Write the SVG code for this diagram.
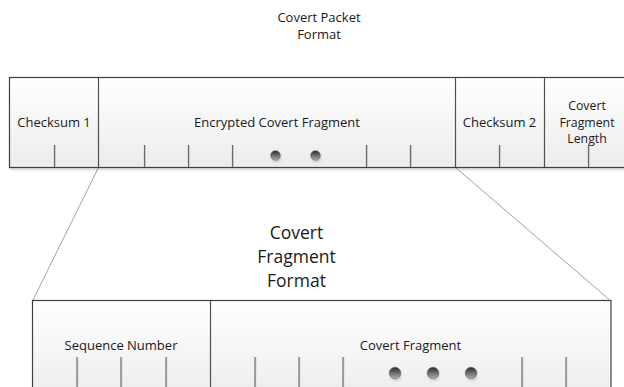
<svg xmlns="http://www.w3.org/2000/svg" width="624" height="387" viewBox="0 0 624 387">
<defs>
<linearGradient id="boxfill" x1="0" y1="0" x2="0" y2="1">
<stop offset="0" stop-color="#ffffff"/>
<stop offset="1" stop-color="#ececec"/>
</linearGradient>
<linearGradient id="dot" x1="0" y1="0" x2="0" y2="1">
<stop offset="0" stop-color="#2a2a2a"/>
<stop offset="1" stop-color="#b0b0b0"/>
</linearGradient>
<filter id="sh" x="-10%" y="-10%" width="120%" height="130%">
<feDropShadow dx="1" dy="2" stdDeviation="1" flood-color="#000" flood-opacity="0.15"/>
</filter>
</defs>
<style>
text{font-family:"Open Sans","DejaVu Sans",sans-serif;font-size:13px;fill:#1a1a1a;text-anchor:middle}
.big{font-size:17.5px}
.sm{font-size:12.3px}
.box{fill:url(#boxfill);stroke:#404040;stroke-width:1.2}
.div{stroke:#505050;stroke-width:1.2}
.tick{stroke:#6a6a6a;stroke-width:1.2}
.tick2{stroke:#d8d8d8;stroke-width:1}
.dot{fill:url(#dot);stroke:#555;stroke-width:0.5}
.con{stroke:#8c8c8c;stroke-width:0.8;fill:none}
</style>
<rect width="624" height="387" fill="#ffffff"/>
<g id="title">
<text x="319" y="22">Covert Packet</text>
<text x="319" y="39">Format</text>
</g>
<g id="connectors">
<line class="con" x1="98.5" y1="167.5" x2="32.5" y2="301"/>
<line class="con" x1="455.5" y1="167.5" x2="611" y2="301"/>
</g>
<g id="packet">
<rect class="box" x="9.5" y="77.5" width="630" height="90" filter="url(#sh)"/>
<line class="div" x1="98.5" y1="78" x2="98.5" y2="167"/>
<line class="div" x1="455.5" y1="78" x2="455.5" y2="167"/>
<line class="div" x1="544.5" y1="78" x2="544.5" y2="167"/>
<g id="ticks-top">
<line class="tick2" x1="55.5" y1="145" x2="55.5" y2="167"/><line class="tick" x1="54.5" y1="145" x2="54.5" y2="167"/>
<line class="tick2" x1="145.5" y1="145" x2="145.5" y2="167"/><line class="tick" x1="144.5" y1="145" x2="144.5" y2="167"/>
<line class="tick2" x1="189.5" y1="145" x2="189.5" y2="167"/><line class="tick" x1="188.5" y1="145" x2="188.5" y2="167"/>
<line class="tick2" x1="233.5" y1="145" x2="233.5" y2="167"/><line class="tick" x1="232.5" y1="145" x2="232.5" y2="167"/>
<line class="tick2" x1="367.5" y1="145" x2="367.5" y2="167"/><line class="tick" x1="366.5" y1="145" x2="366.5" y2="167"/>
<line class="tick2" x1="411.5" y1="145" x2="411.5" y2="167"/><line class="tick" x1="410.5" y1="145" x2="410.5" y2="167"/>
<line class="tick2" x1="500.5" y1="145" x2="500.5" y2="167"/><line class="tick" x1="499.5" y1="145" x2="499.5" y2="167"/>
<line class="tick2" x1="589.5" y1="145" x2="589.5" y2="167"/><line class="tick" x1="588.5" y1="145" x2="588.5" y2="167"/>
</g>
<circle class="dot" cx="275.5" cy="155.5" r="4.8" filter="url(#sh)"/>
<circle class="dot" cx="315.5" cy="155.5" r="4.8" filter="url(#sh)"/>
</g>
<g id="checksum1"><text x="54" y="127">Checksum 1</text></g>
<g id="encrypted"><text x="277" y="127">Encrypted Covert Fragment</text></g>
<g id="checksum2"><text x="499.5" y="127">Checksum 2</text></g>
<g id="length">
<text class="sm" x="587" y="110">Covert</text>
<text class="sm" x="587" y="126.5">Fragment</text>
<text class="sm" x="587" y="143">Length</text>
</g>
<g id="subtitle">
<text class="big" x="296.5" y="239">Covert</text>
<text class="big" x="296.5" y="263">Fragment</text>
<text class="big" x="296.5" y="287">Format</text>
</g>
<g id="fragment">
<rect class="box" x="32.5" y="300.5" width="578.5" height="100"/>
<line class="div" x1="210.5" y1="301" x2="210.5" y2="387"/>
<line class="tick2" x1="78" y1="357" x2="78" y2="387"/><line class="tick" x1="77" y1="357" x2="77" y2="387"/>
<line class="tick2" x1="122" y1="357" x2="122" y2="387"/><line class="tick" x1="121" y1="357" x2="121" y2="387"/>
<line class="tick2" x1="167" y1="357" x2="167" y2="387"/><line class="tick" x1="166" y1="357" x2="166" y2="387"/>
<line class="tick2" x1="256" y1="357" x2="256" y2="387"/><line class="tick" x1="255" y1="357" x2="255" y2="387"/>
<line class="tick2" x1="300" y1="357" x2="300" y2="387"/><line class="tick" x1="299" y1="357" x2="299" y2="387"/>
<line class="tick2" x1="344" y1="357" x2="344" y2="387"/><line class="tick" x1="343" y1="357" x2="343" y2="387"/>
<line class="tick2" x1="523" y1="357" x2="523" y2="387"/><line class="tick" x1="522" y1="357" x2="522" y2="387"/>
<line class="tick2" x1="567" y1="357" x2="567" y2="387"/><line class="tick" x1="566" y1="357" x2="566" y2="387"/>
<circle class="dot" cx="395" cy="373" r="5.8" filter="url(#sh)"/>
<circle class="dot" cx="433" cy="373" r="5.8" filter="url(#sh)"/>
<circle class="dot" cx="471" cy="373" r="5.8" filter="url(#sh)"/>
</g>
<g id="seqnum"><text x="121" y="350">Sequence Number</text></g>
<g id="covfrag"><text x="410.5" y="350">Covert Fragment</text></g>
</svg>
